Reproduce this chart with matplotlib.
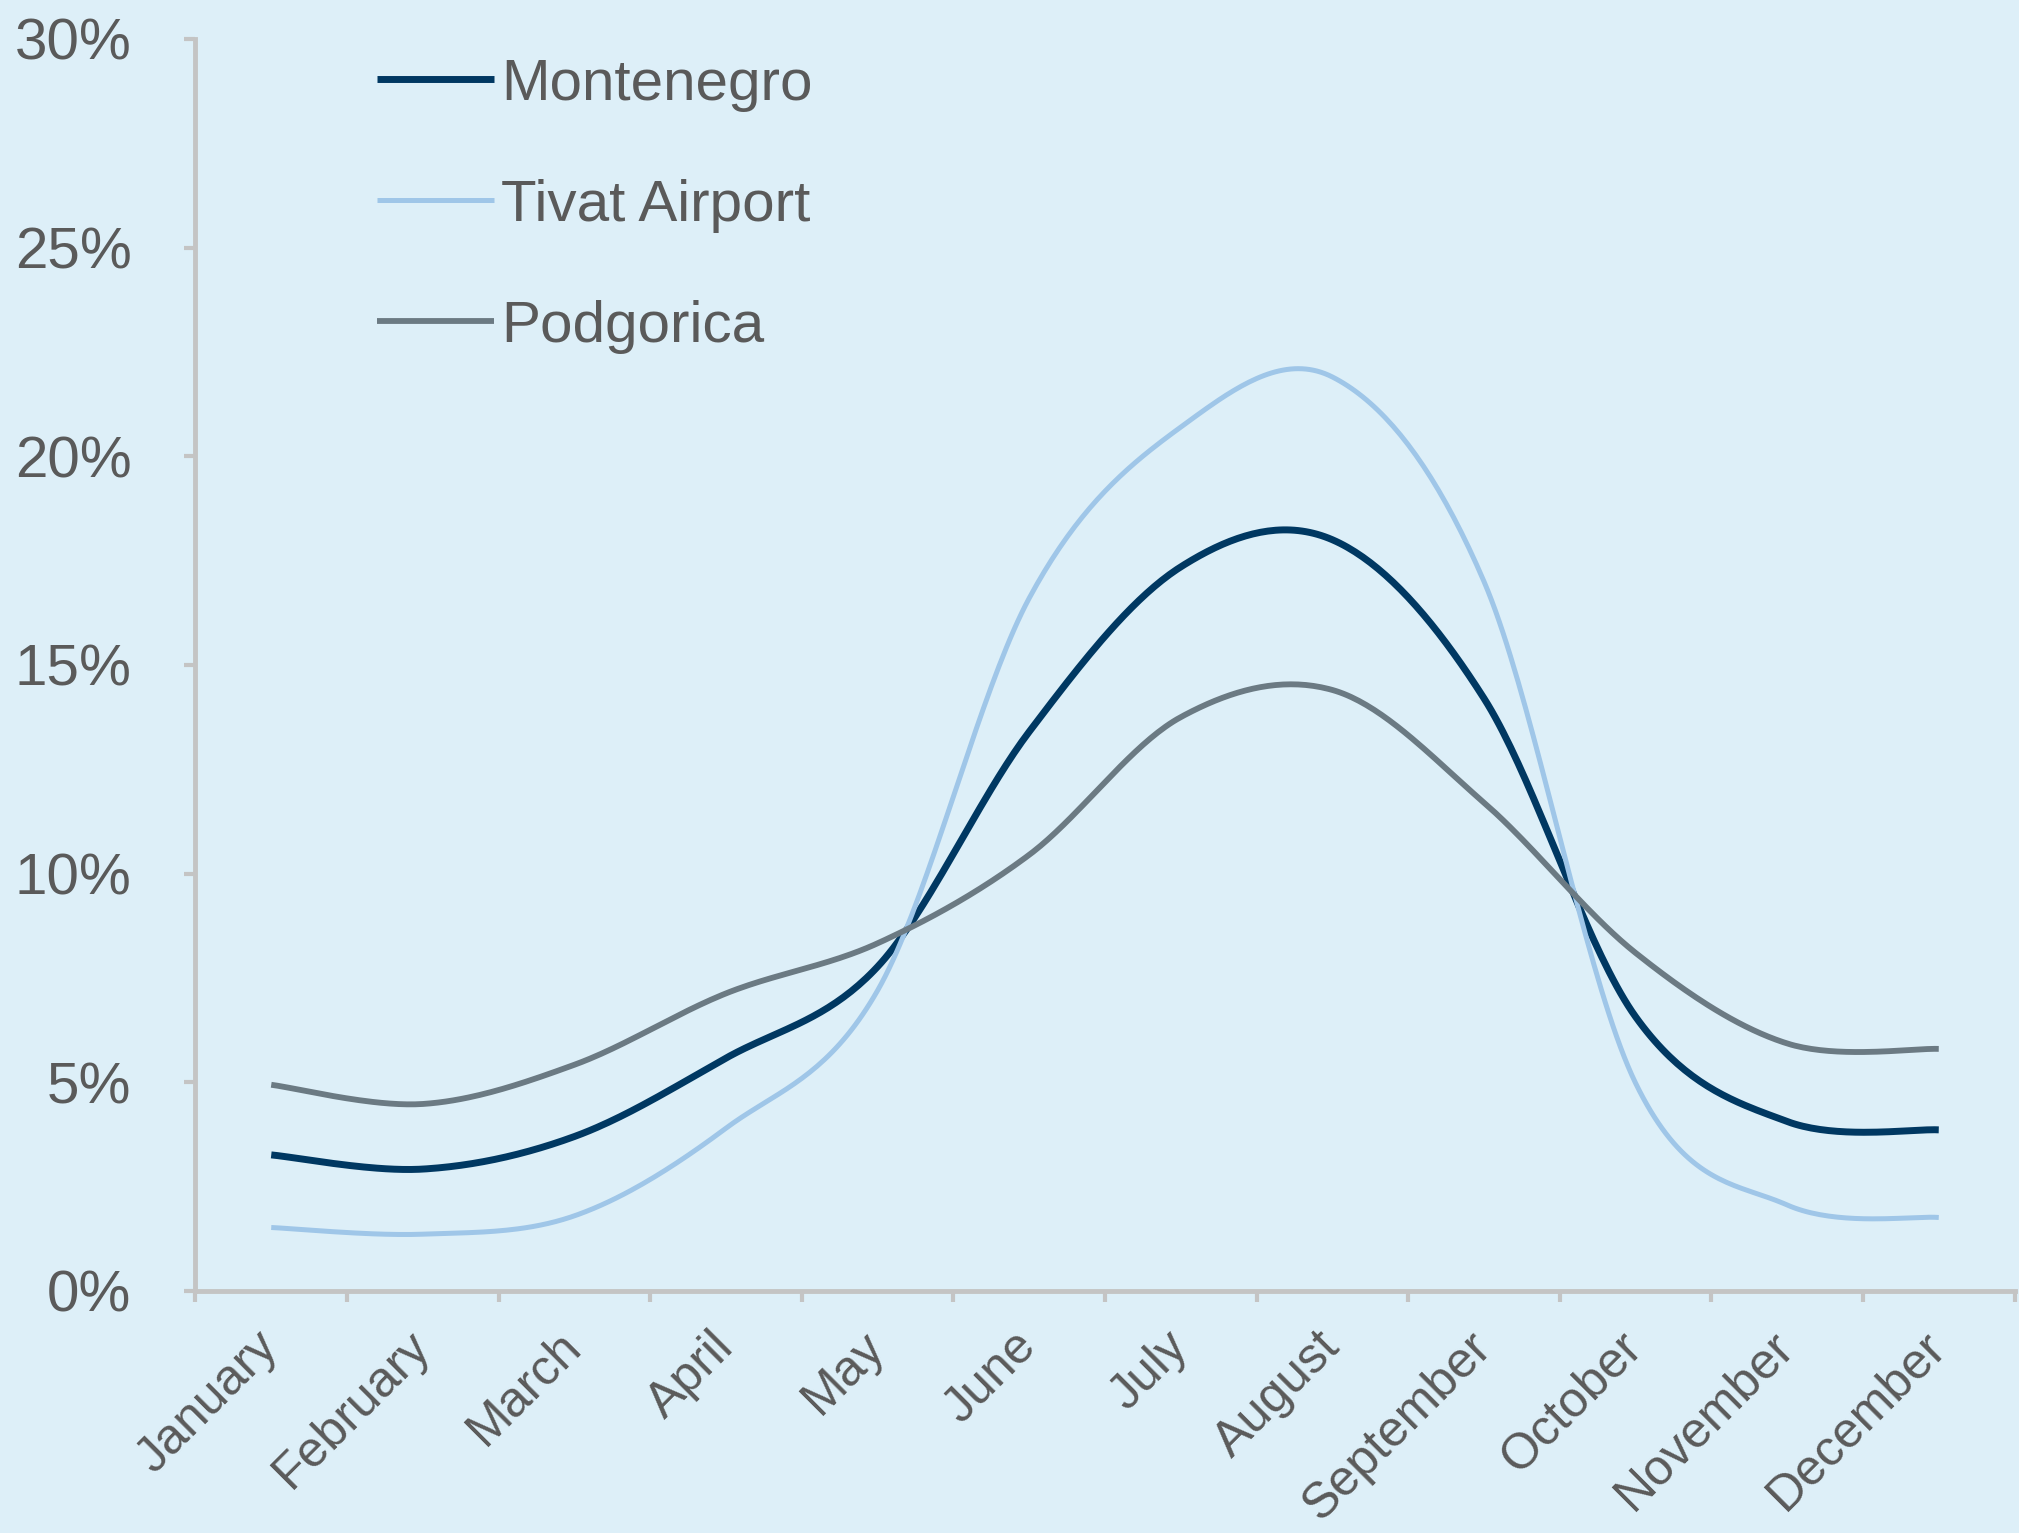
import numpy as np
import matplotlib
matplotlib.use("Agg")
import matplotlib.pyplot as plt
from matplotlib.ticker import FixedLocator, PercentFormatter

months = ["January", "February", "March", "April", "May", "June", "July",
          "August", "September", "October", "November", "December"]
montenegro = [3.26, 2.92, 3.70, 5.58, 7.77, 13.4, 17.35, 18.0, 14.2, 6.57, 4.06, 3.86]
tivat = [1.52, 1.36, 1.80, 3.9, 7.2, 16.6, 20.7, 21.9, 17.0, 4.98, 2.06, 1.76]
podgorica = [4.94, 4.48, 5.42, 7.13, 8.33, 10.45, 13.75, 14.4, 11.7, 8.1, 5.93, 5.80]
series_names = ["Montenegro", "Tivat Airport", "Podgorica"]
y_ticks = [0, 5, 10, 15, 20, 25, 30]

BG = "#ddeff8"
AXC = "#c4c4c4"
TXT = "#5a5a5a"
colors = ["#003862", "#9fc6e8", "#6b7a83"]
widths = [5.0, 3.6, 4.2]


def smooth(x, y, n=40):
    """Catmull-Rom smoothing (like a spreadsheet 'smoothed line')."""
    x = np.asarray(x, float)
    y = np.asarray(y, float)
    px = np.concatenate([[x[0]], x, [x[-1]]])
    py = np.concatenate([[y[0]], y, [y[-1]]])
    xs, ys = [], []
    for i in range(1, len(px) - 2):
        t = np.linspace(0, 1, n, endpoint=False)
        mx0 = (px[i + 1] - px[i - 1]) / 2
        mx1 = (px[i + 2] - px[i]) / 2
        my0 = (py[i + 1] - py[i - 1]) / 2
        my1 = (py[i + 2] - py[i]) / 2
        h00 = 2 * t**3 - 3 * t**2 + 1
        h10 = t**3 - 2 * t**2 + t
        h01 = -2 * t**3 + 3 * t**2
        h11 = t**3 - t**2
        xs.append(h00 * px[i] + h10 * mx0 + h01 * px[i + 1] + h11 * mx1)
        ys.append(h00 * py[i] + h10 * my0 + h01 * py[i + 1] + h11 * my1)
    xs.append([x[-1]])
    ys.append([y[-1]])
    return np.concatenate(xs), np.concatenate(ys)


plt.rcParams["font.family"] = ["Liberation Sans", "DejaVu Sans"]

fig = plt.figure(figsize=(20.19, 15.33), dpi=100, facecolor=BG)
ax = fig.add_axes([0.0968, 0.1579, 0.9010, 0.8167])
ax.set_facecolor(BG)

xpos = np.arange(len(months))
for name, vals, c, lw in zip(series_names, [montenegro, tivat, podgorica], colors, widths):
    sx, sy = smooth(xpos, vals)
    ax.plot(sx, sy, color=c, lw=lw, label=name, solid_capstyle="butt")

ax.set_xlim(-0.5, len(months) - 0.5)
ax.set_ylim(0, 30)

for s in ["top", "right"]:
    ax.spines[s].set_visible(False)
for s in ["left", "bottom"]:
    ax.spines[s].set_color(AXC)
    ax.spines[s].set_linewidth(3.5)

ax.xaxis.set_major_locator(FixedLocator(np.arange(-0.5, len(months), 1.0)))
ax.set_xticks(xpos, minor=True)
ax.set_xticklabels([], minor=False)
ax.set_xticklabels(months, minor=True, rotation=45, ha="right", va="center",
                   rotation_mode="anchor", fontsize=36, color=TXT)
ax.tick_params(axis="x", which="major", length=8, width=3, color=AXC, direction="out")
ax.tick_params(axis="x", which="minor", length=0, pad=35)

ax.set_yticks(y_ticks)
ax.yaxis.set_major_formatter(PercentFormatter(decimals=0))
ax.tick_params(axis="y", length=8, width=3, color=AXC, direction="out", pad=38,
               labelsize=42, labelcolor=TXT)

leg = ax.legend(loc="upper left", bbox_to_anchor=(0.1, 0.985), frameon=False,
                fontsize=42, handlelength=2.0, handletextpad=0.12,
                labelspacing=1.15, borderpad=0, borderaxespad=0)
for t in leg.get_texts():
    t.set_color(TXT)

fig.savefig("out.png", dpi=100, facecolor=BG)
